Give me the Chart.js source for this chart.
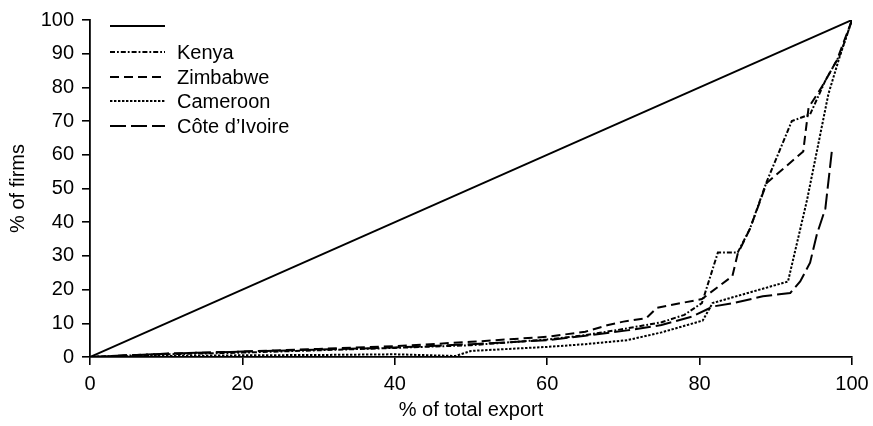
<!DOCTYPE html>
<html>
<head>
<meta charset="utf-8">
<script src="https://cdn.jsdelivr.net/npm/chart.js@4"></script>
<style>
  html, body { margin: 0; padding: 0; background: #fff; }
  #wrap { width: 873px; height: 426px; }
</style>
</head>
<body>
<div id="wrap"><canvas id="lorenzChart" width="873" height="426"></canvas></div>
<script>
// Concentration curves: cumulative % of firms vs cumulative % of total export

const equalityX = [0, 100];
const equalityY = [0, 100];

const kenyaX = [0, 5, 10, 20, 30, 40, 50, 60, 65, 70, 75, 78, 80.3, 82.4, 85, 86.6, 88.8, 92.1, 94.5, 96.5, 98.5, 100];
const kenyaY = [0, 0.4, 0.8, 1.3, 2, 2.7, 3.5, 5.2, 6.5, 8.3, 10.3, 12.5, 16, 31, 31, 38, 52, 70, 72, 82, 90, 100];

const zimbabweX = [0, 5, 10, 20, 30, 40, 50, 60, 65, 68, 70, 73, 74.4, 80.3, 84.3, 85, 86.6, 88.8, 93.6, 94.3, 96, 98, 100];
const zimbabweY = [0, 0.5, 1, 1.6, 2.4, 3.2, 4.5, 6, 7.5, 9.5, 10.5, 11.5, 14.6, 17.2, 24, 30.6, 38, 51.6, 61, 74, 80, 88, 100];

const cameroonX = [0, 5, 10, 20, 30, 40, 48, 50, 60, 65, 70.5, 75, 80.4, 81.7, 91.6, 92.8, 94.1, 96.9, 98.5, 100];
const cameroonY = [0, 0.2, 0.3, 0.5, 0.6, 0.8, 0.3, 1.8, 3, 3.8, 5, 7.3, 10.8, 16, 22.4, 34, 46.6, 78, 90, 100];

const coteX = [0, 5, 10, 20, 30, 40, 50, 60, 65, 70.5, 75, 79, 81.8, 84.4, 88.3, 91.9, 93.2, 94.5, 95.4, 96.5, 97.4];
const coteY = [0, 0.5, 1, 1.6, 2.2, 2.8, 3.8, 5, 6.3, 7.9, 9.5, 12, 15, 16, 18, 19, 22.4, 28, 36.5, 44, 62];

const seriesLabels = ["", "Kenya", "Zimbabwe", "Cameroon", "Côte d’Ivoire"];

const FONT = "'Liberation Sans', Arial, Helvetica, sans-serif";
const FONT_SIZE = 20;

function toPoints(xs, ys) {
  return xs.map((x, i) => ({ x: x, y: ys[i] }));
}

function lineSet(label, xs, ys, dash, width) {
  return {
    label: label,
    data: toPoints(xs, ys),
    borderColor: "#000",
    backgroundColor: "#000",
    borderWidth: width,
    borderDash: dash,
    pointRadius: 0,
    tension: 0,
    fill: false,
  };
}

// legend drawn as a column inside the plot, top-left
const columnLegend = {
  id: "columnLegend",
  afterDatasetsDraw(chart) {
    const ctx = chart.ctx;
    const x0 = 110, x1 = 165, tx = 177;
    const rows = [26, 52, 77, 101, 126];
    ctx.save();
    ctx.font = FONT_SIZE + "px " + FONT;
    ctx.fillStyle = "#000";
    ctx.textBaseline = "middle";
    chart.data.datasets.forEach((ds, i) => {
      const y = rows[i];
      ctx.beginPath();
      ctx.setLineDash(ds.borderDash || []);
      ctx.lineWidth = ds.borderWidth;
      ctx.strokeStyle = ds.borderColor;
      ctx.moveTo(x0, y);
      ctx.lineTo(x1, y);
      ctx.stroke();
      ctx.setLineDash([]);
      if (ds.label) ctx.fillText(ds.label, tx, y + 1);
    });
    ctx.restore();
  },
};

const ctx = document.getElementById("lorenzChart").getContext("2d");

new Chart(ctx, {
  type: "line",
  data: {
    datasets: [
      lineSet(seriesLabels[0], equalityX, equalityY, [], 2),
      lineSet(seriesLabels[1], kenyaX, kenyaY, [5, 2, 1.8, 2], 2),
      lineSet(seriesLabels[2], zimbabweX, zimbabweY, [9, 5], 2),
      lineSet(seriesLabels[3], cameroonX, cameroonY, [2.4, 1.6], 2),
      lineSet(seriesLabels[4], coteX, coteY, [16, 5], 2),
    ],
  },
  options: {
    responsive: false,
    devicePixelRatio: 1,
    animation: false,
    layout: { padding: { left: 0, right: 21, top: 14, bottom: 0 } },
    plugins: {
      legend: { display: false },
      tooltip: { enabled: false },
    },
    scales: {
      x: {
        type: "linear",
        min: 0,
        max: 100,
        afterFit: (scale) => {
          scale.height = 69;
          // let the layout padding alone decide the right edge
          scale.paddingRight = 0;
        },
        ticks: { stepSize: 20, color: "#000", padding: 7, font: { family: FONT, size: FONT_SIZE } },
        grid: { drawOnChartArea: false, color: "#000", lineWidth: 1.6, tickLength: 8 },
        border: { display: true, color: "#000", width: 1.8 },
        title: {
          display: true,
          text: "% of total export",
          color: "#000",
          font: { family: FONT, size: FONT_SIZE },
          padding: { top: 0, bottom: 4 },
        },
      },
      y: {
        min: 0,
        max: 100,
        afterFit: (scale) => { scale.width = 90; },
        ticks: { stepSize: 10, color: "#000", padding: 8, font: { family: FONT, size: FONT_SIZE } },
        grid: { drawOnChartArea: false, color: "#000", lineWidth: 1.6, tickLength: 8 },
        border: { display: true, color: "#000", width: 1.8 },
        title: {
          display: true,
          text: "% of firms",
          color: "#000",
          font: { family: FONT, size: FONT_SIZE },
          padding: { top: 6, bottom: 0 },
        },
      },
    },
  },
  plugins: [columnLegend],
});
</script>
</body>
</html>
